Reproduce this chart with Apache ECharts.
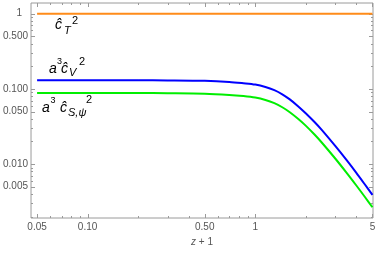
<!DOCTYPE html>
<html><head><meta charset="utf-8">
<script src="https://cdn.jsdelivr.net/npm/echarts@6/dist/echarts.min.js"></script>
<style>html,body{margin:0;padding:0;background:#fff}#c{width:382px;height:253px}</style>
</head><body><div id="c"></div>
<script>
const xValues = [0.05,0.1,0.2,0.3,0.5,0.7,0.85,1,1.15,1.3,1.45,1.6,1.8,2,2.25,2.5,3,3.5,4,4.5,5];
const cT2 = [1,1,1,1,1,1,1,1,1,1,1,1,1,1,1,1,1,1,1,1,1];
const a3cV2 = [0.1305,0.1305,0.1301,0.1297,0.1281,0.1239,0.1190,0.1141,0.1061,0.0962,0.0848,0.0730,0.0589,0.0474,0.0365,0.0283,0.01744,0.01137,0.00771,0.00539,0.00389];
const a3cS2 = [0.0885,0.0885,0.0882,0.0877,0.0864,0.0832,0.0802,0.0766,0.0713,0.0647,0.0570,0.0493,0.0401,0.0325,0.0249,0.01924,0.01187,0.00771,0.00523,0.00368,0.00267];
const xMajorTicks = [0.05,0.1,0.5,1,5];
const xTickLabels = ['0.05','0.10','0.50','1','5'];
const xMinorTicks = [0.06,0.07,0.08,0.09,0.2,0.3,0.4,0.6,0.7,0.8,0.9,2,3,4];
const yMajorTicks = [0.005,0.01,0.05,0.1,0.5,1];
const yTickLabels = ['0.005','0.010','0.050','0.100','0.500','1'];
const yMinorTicks = [0.002,0.003,0.004,0.006,0.007,0.008,0.009,0.02,0.03,0.04,0.06,0.07,0.08,0.09,0.2,0.3,0.4,0.6,0.7,0.8,0.9];

const X_MIN = 0.046, X_MAX = 5.04, Y_MIN = 0.00192, Y_MAX = 1.387;
const AXIS_COLOR = '#9a9a9a', LABEL_COLOR = '#555';
const FONT = 'Liberation Sans, Arial, sans-serif';
const MAJOR_LEN = 4, MINOR_LEN = 2;

function pairs(ys){ return xValues.map((x,i)=>[x, ys[i]]); }
function xLabel(v){ const i = xMajorTicks.findIndex(t=>Math.abs(t-v)/t<1e-6); return i>=0 ? xTickLabels[i] : ''; }
function yLabel(v){ const i = yMajorTicks.findIndex(t=>Math.abs(t-v)/t<1e-6); if(i<0) return ''; const s=yTickLabels[i]; return s==='1' ? '{one|1}' : s; }

// tick data: [xValue, yValue, length, direction(0 = x tick, 1 = y tick)]
const tickData = [].concat(
  xMajorTicks.map(v=>[v, Y_MIN, MAJOR_LEN, 0]),
  xMinorTicks.map(v=>[v, Y_MIN, MINOR_LEN, 0]),
  yMajorTicks.map(v=>[X_MIN, v, MAJOR_LEN, 1]),
  yMinorTicks.map(v=>[X_MIN, v, MINOR_LEN, 1])
);

function seg(x1,y1,x2,y2){ return {type:'line', shape:{x1:x1,y1:y1,x2:x2,y2:y2}, style:{stroke:AXIS_COLOR, lineWidth:1}}; }
function renderTick(params, api){
  const xv = api.value(0), yv = api.value(1), len = api.value(2), dir = api.value(3);
  if (dir === 0) {
    const b = api.coord([xv, Y_MIN]), t = api.coord([xv, Y_MAX]);
    const x = Math.round(b[0]) + 0.5;
    return {type:'group', children:[seg(x, b[1], x, b[1]-len), seg(x, t[1], x, t[1]+len)]};
  } else {
    const l = api.coord([X_MIN, yv]), r = api.coord([X_MAX, yv]);
    const y = Math.round(l[1]) + 0.5;
    return {type:'group', children:[seg(l[0], y, l[0]+len, y), seg(r[0], y, r[0]-len, y)]};
  }
}

function t(txt, x, baseline, size, italic){
  return {type:'text', x:x, y:baseline - size*0.35, z:100,
    style:{text:txt, fontSize:size, fontFamily:FONT, fontStyle: italic===false?'normal':'italic', fill:'#000', verticalAlign:'middle', align:'left'}};
}

const chart = echarts.init(document.getElementById('c'), null, {renderer:'canvas'});
chart.setOption({
  animation:false,
  grid:{left:30, right:9, top:3, bottom:35, containLabel:false, show:true, borderColor:AXIS_COLOR, borderWidth:1, backgroundColor:'transparent'},
  xAxis:{
    type:'log', logBase:10, min:X_MIN, max:X_MAX,
    axisLine:{show:false}, axisTick:{show:false}, splitLine:{show:false}, minorTick:{show:false},
    axisLabel:{customValues:xMajorTicks, formatter:xLabel, color:LABEL_COLOR, fontSize:10, fontFamily:FONT, margin:4},
    name:'{i|z} + 1', nameLocation:'middle', nameGap:17,
    nameTextStyle:{color:LABEL_COLOR, fontSize:10, fontFamily:FONT, rich:{i:{fontStyle:'italic', fontSize:10, fontFamily:FONT, color:LABEL_COLOR}}}
  },
  yAxis:{
    type:'log', logBase:10, min:Y_MIN, max:Y_MAX,
    axisLine:{show:false}, axisTick:{show:false}, splitLine:{show:false}, minorTick:{show:false},
    axisLabel:{customValues:yMajorTicks, formatter:yLabel, color:LABEL_COLOR, fontSize:10, fontFamily:FONT, margin:3,
      rich:{one:{fontSize:10, fontFamily:FONT, color:LABEL_COLOR, padding:[0,6,0,0]}}}
  },
  series:[
    {type:'custom', name:'ticks', data:tickData, renderItem:renderTick, encode:{x:0, y:1}, silent:true, clip:false, z:1},
    {type:'line', name:'cT2', data:pairs(cT2), showSymbol:false, smooth:false, lineStyle:{color:'#ff8c1a', width:2}, itemStyle:{color:'#ff8c1a'}, z:3},
    {type:'line', name:'a3cV2', data:pairs(a3cV2), showSymbol:false, smooth:0.3, lineStyle:{color:'#0000ff', width:2}, itemStyle:{color:'#0000ff'}, z:3},
    {type:'line', name:'a3cS2', data:pairs(a3cS2), showSymbol:false, smooth:0.3, lineStyle:{color:'#00ee00', width:2}, itemStyle:{color:'#00ee00'}, z:3}
  ],
  graphic:[
    t('ĉ', 55, 30, 14), t('T', 64, 35, 11), t('2', 72, 25, 11, false),
    t('a', 49, 74, 14), t('3', 57, 65, 9, false), t('ĉ', 61, 74, 14), t('V', 69, 77, 11), t('2', 79, 66, 11, false),
    t('a', 42, 113, 14), t('3', 50.5, 104, 9, false), t('ĉ', 60, 113, 14), t('S,ψ', 68, 117, 11), t('2', 86, 104, 11, false)
  ]
});
</script></body></html>
